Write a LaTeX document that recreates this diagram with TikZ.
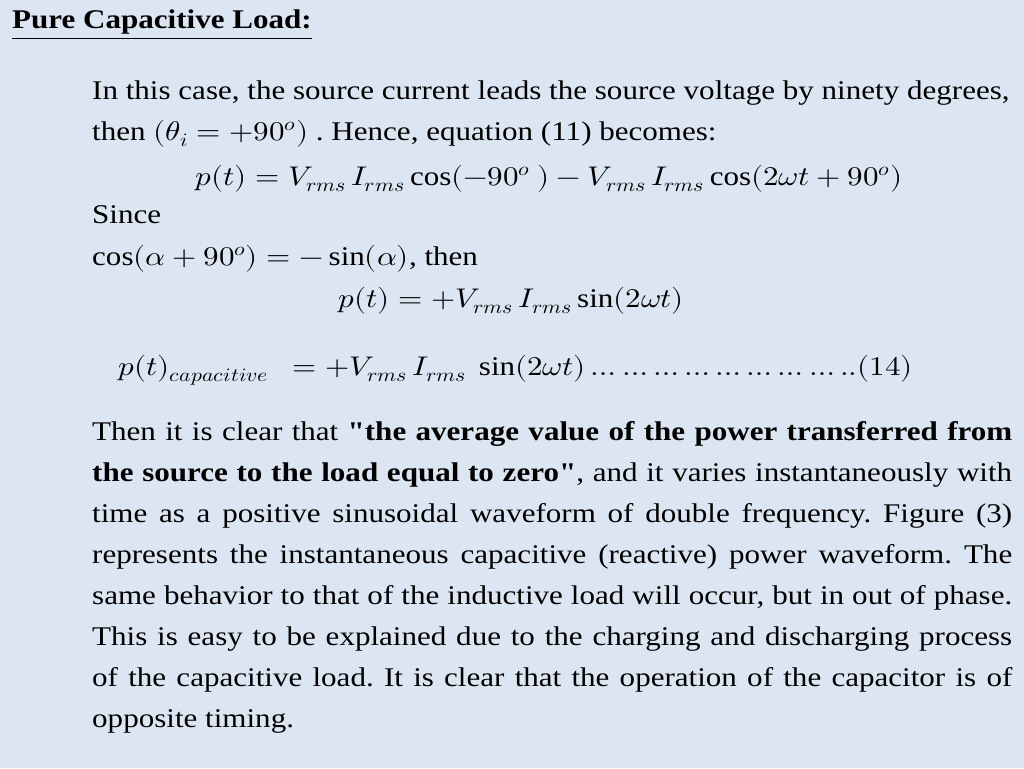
\documentclass[tikz,border=0pt]{standalone}
\usepackage{fontspec}
\usepackage{unicode-math}
\usepackage{graphicx}
\setmainfont{Liberation Serif}
\setmathfont{Latin Modern Math}
\usetikzlibrary{positioning}
\definecolor{slidebg}{HTML}{DCE6F2}
\tikzstyle{every node}=[font=\fontsize{27}{41}\selectfont,inner sep=0pt,anchor=base west]
\tikzstyle{fullline}=[text=black]
\newcommand{\wide}[1]{\scalebox{1.15}[1]{#1}}
\newcommand{\jline}[1]{\wide{\makebox[800pt][s]{#1}}}
\frenchspacing
\begin{document}
\begin{tikzpicture}[x=1pt,y=-1pt]
\fill[slidebg] (0,0) rectangle (1024,768);
\useasboundingbox (0,0) rectangle (1024,768);

% heading
\node (title) at (12,29) {\wide{\underline{\textbf{Pure Capacitive Load:}}}};

% first paragraph
\node[fullline] (intro1) at (92,99) {\wide{In this case, the source current leads the source voltage by ninety degrees,}};
\node[fullline] (intro2) at (92,140) {\wide{then $(\theta_i=+90^{o})$ . Hence, equation (11) becomes:}};
\node (eqa) at (195,185) {\wide{$p(t)=V_{rms}\,I_{rms}\cos(-90^{o}\ )-V_{rms}\,I_{rms}\cos(2\omega t+90^{o})$}};
\node (since) at (92,223) {\wide{Since}};
\node (ident) at (92,265) {\wide{$\cos(\alpha+90^{o})=-\sin(\alpha)$, then}};
\node (eqb) at (338,307) {\wide{$p(t)=+V_{rms}\,I_{rms}\sin(2\omega t)$}};
\node (eqc) at (118,375) {\wide{$p(t)_{capacitive}\ \ =+V_{rms}\,I_{rms}\ \sin(2\omega t)\dots\dots\dots\dots\dots\dots\dots\dots..(14)$}};

% second paragraph
\node[fullline] (par1) at (92,440) {\jline{Then it is clear that \textbf{\textquotedbl the average value of the power transferred from}}};
\node[fullline] (par2) at (92,481) {\jline{\textbf{the source to the load equal to zero\textquotedbl}, and it varies instantaneously with}};
\node[fullline] (par3) at (92,522) {\jline{time as a positive sinusoidal waveform of double frequency. Figure (3)}};
\node[fullline] (par4) at (92,563) {\jline{represents the instantaneous capacitive (reactive) power waveform. The}};
\node[fullline] (par5) at (92,604) {\jline{same behavior to that of the inductive load will occur, but in out of phase.}};
\node[fullline] (par6) at (92,645) {\jline{This is easy to be explained due to the charging and discharging process}};
\node[fullline] (par7) at (92,686) {\jline{of the capacitive load. It is clear that the operation of the capacitor is of}};
\node[fullline] (par8) at (92,727) {\wide{opposite timing.}};
\end{tikzpicture}
\end{document}
